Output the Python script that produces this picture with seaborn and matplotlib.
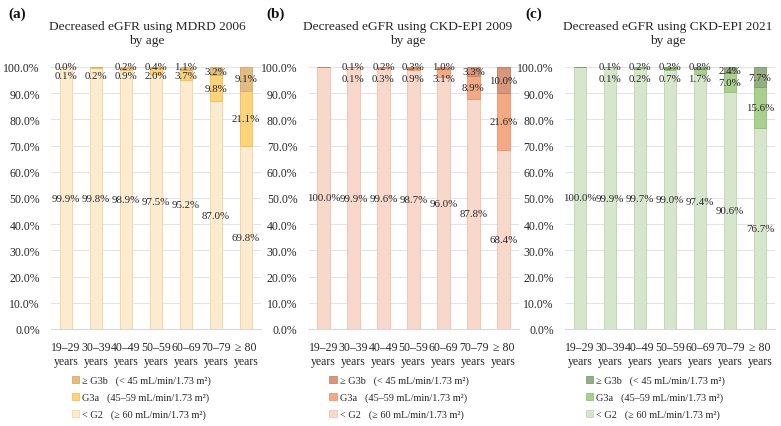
import matplotlib
matplotlib.use("Agg")
import matplotlib.pyplot as plt
import seaborn as sns
import pandas as pd
from matplotlib.patches import Patch

sns.set_style("white")
plt.rcParams["font.family"] = ["Liberation Serif", "DejaVu Serif"]

ages = ["19–29\nyears", "30–39\nyears", "40–49\nyears", "50–59\nyears",
        "60–69\nyears", "70–79\nyears", "≥ 80\nyears"]

# (a) MDRD 2006
mdrd_g2 = [99.9, 99.8, 98.9, 97.5, 95.2, 87.0, 69.8]
mdrd_g3a = [0.1, 0.2, 0.9, 2.0, 3.7, 9.8, 21.1]
mdrd_g3b = [0.0, 0.0, 0.2, 0.4, 1.1, 3.2, 9.1]
mdrd_g3a_lbl = ["0.1%", "0.2%", "0.9%", "2.0%", "3.7%", "9.8%", "21.1%"]
mdrd_g3b_lbl = ["0.0%", "", "0.2%", "0.4%", "1.1%", "3.2%", "9.1%"]

# (b) CKD-EPI 2009
epi09_g2 = [100.0, 99.9, 99.6, 98.7, 96.0, 87.8, 68.4]
epi09_g3a = [0.0, 0.1, 0.3, 0.9, 3.1, 8.9, 21.6]
epi09_g3b = [0.0, 0.1, 0.2, 0.3, 1.0, 3.3, 10.0]
epi09_g3a_lbl = ["", "0.1%", "0.3%", "0.9%", "3.1%", "8.9%", "21.6%"]
epi09_g3b_lbl = ["", "0.1%", "0.2%", "0.3%", "1.0%", "3.3%", "10.0%"]

# (c) CKD-EPI 2021
epi21_g2 = [100.0, 99.9, 99.7, 99.0, 97.4, 90.6, 76.7]
epi21_g3a = [0.0, 0.1, 0.2, 0.7, 1.7, 7.0, 15.6]
epi21_g3b = [0.0, 0.1, 0.2, 0.3, 0.8, 2.4, 7.7]
epi21_g3a_lbl = ["", "0.1%", "0.2%", "0.7%", "1.7%", "7.0%", "15.6%"]
epi21_g3b_lbl = ["", "0.1%", "0.2%", "0.3%", "0.8%", "2.4%", "7.7%"]

titles = ["Decreased eGFR using MDRD 2006\nby age",
          "Decreased eGFR using CKD-EPI 2009\nby age",
          "Decreased eGFR using CKD-EPI 2021\nby age"]
panel_tags = ["(a)", "(b)", "(c)"]
legend_labels = ["≥ G3b   (< 45 mL/min/1.73 m²)",
                 "G3a   (45–59 mL/min/1.73 m²)",
                 "< G2   (≥ 60 mL/min/1.73 m²)"]

palettes = [
    dict(g2="#FDEBCF", g3a="#FDD47C", g3b="#E3BC84",
         e2="#F5D8A6", e3a="#F2C25A", e3b="#D8AC6C"),
    dict(g2="#F9D8CC", g3a="#F4A985", g3b="#D8967C",
         e2="#F2C4B2", e3a="#EC9A72", e3b="#CC8468"),
    dict(g2="#D6E6CC", g3a="#A9D08E", g3b="#93AE80",
         e2="#C2D9B3", e3a="#96C27A", e3b="#82A06E"),
]

datasets = [
    (mdrd_g2, mdrd_g3a, mdrd_g3b, mdrd_g3a_lbl, mdrd_g3b_lbl, 96.6),
    (epi09_g2, epi09_g3a, epi09_g3b, epi09_g3a_lbl, epi09_g3b_lbl, 95.5),
    (epi21_g2, epi21_g3a, epi21_g3b, epi21_g3a_lbl, epi21_g3b_lbl, 95.5),
]

W, H = 781, 427
fig = plt.figure(figsize=(W / 100, H / 100), dpi=100)

ax_lefts = [51, 308.5, 565]
ax_w = 210
ax_top, ax_bot = 68, 330
title_x = [147, 408, 668]
tag_x = [8, 266, 525]
txtc = "#262626"

for i in range(3):
    g2, g3a, g3b, l3a, l3b, g3a_cap = datasets[i]
    pal = palettes[i]
    ax = fig.add_axes([ax_lefts[i] / W, 1 - ax_bot / H, ax_w / W, (ax_bot - ax_top) / H])
    df = pd.DataFrame({"age": ages, "g2": g2, "g3a": g3a, "g3b": g3b})
    df["b3a"] = df["g2"]
    df["b3b"] = df["g2"] + df["g3a"]
    sns.barplot(data=df, x="age", y="g2", color=pal["g2"], width=0.43,
                edgecolor=pal["e2"], linewidth=0.7, ax=ax, saturation=1)
    sns.barplot(data=df, x="age", y="g3a", bottom=df["b3a"], color=pal["g3a"], width=0.43,
                edgecolor=pal["e3a"], linewidth=0.7, ax=ax, saturation=1)
    sns.barplot(data=df, x="age", y="g3b", bottom=df["b3b"], color=pal["g3b"], width=0.43,
                edgecolor=pal["e3b"], linewidth=0.7, ax=ax, saturation=1)

    ax.set_ylim(0, 100)
    ax.set_xlim(-0.5, 6.5)
    ax.set_yticks(range(0, 101, 10))
    ax.set_yticklabels([f"{v:.1f}%" for v in range(0, 101, 10)])
    ax.yaxis.grid(True, color="#E3E3E3", linewidth=0.8)
    ax.set_axisbelow(True)
    for s in ["top", "right", "left"]:
        ax.spines[s].set_visible(False)
    ax.spines["bottom"].set_color("#D9D9D9")
    ax.spines["bottom"].set_linewidth(0.8)
    ax.tick_params(axis="both", length=0, labelsize=8.5, colors=txtc)
    ax.tick_params(axis="y", pad=8)
    ax.tick_params(axis="x", pad=9)
    ax.set_xlabel("")
    ax.set_ylabel("")

    for j in range(7):
        ax.text(j, g2[j] / 2, f"{g2[j]:.1f}%", ha="center", va="center",
                fontsize=7.8, color=txtc)
        if l3a[j]:
            y = min(g2[j] + g3a[j] / 2, g3a_cap)
            ax.text(j, y, l3a[j], ha="center", va="center", fontsize=7.8, color=txtc)
        if l3b[j]:
            y = max(g2[j] + g3a[j] + g3b[j] / 2, 100.2)
            if g3b[j] > 2:
                y = g2[j] + g3a[j] + g3b[j] / 2
            ax.text(j, y, l3b[j], ha="center", va="center", fontsize=7.8, color=txtc)

    fig.text(title_x[i] / W, 1 - 21 / H, titles[i], ha="center", va="top",
             fontsize=9.6, color=txtc, linespacing=1.2)
    fig.text(tag_x[i] / W, 1 - 14 / H, panel_tags[i], ha="left", va="center",
             fontsize=11, fontweight="bold", color="#111111")

    handles = [Patch(facecolor=pal["g3b"], edgecolor=pal["e3b"], linewidth=0.6),
               Patch(facecolor=pal["g3a"], edgecolor=pal["e3a"], linewidth=0.6),
               Patch(facecolor=pal["g2"], edgecolor=pal["e2"], linewidth=0.6)]
    ax.legend(handles, legend_labels, loc="upper left", bbox_to_anchor=(0.08, -0.162),
              frameon=False, fontsize=7.4, handlelength=0.7, handleheight=0.7,
              handletextpad=0.3, labelspacing=0.72, borderaxespad=0, labelcolor=txtc)

fig.savefig("out.png", dpi=100)
